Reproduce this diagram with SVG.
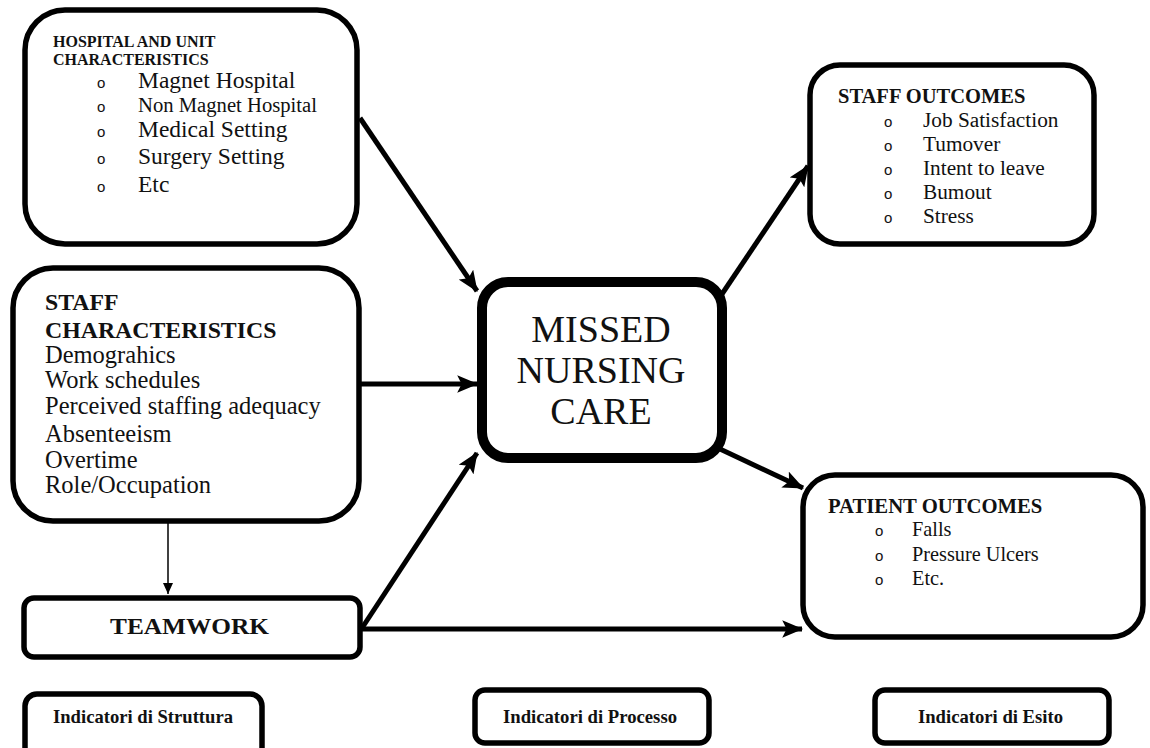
<svg xmlns="http://www.w3.org/2000/svg" width="1150" height="748" viewBox="0 0 1150 748">
<defs>
<marker id="ah" markerUnits="userSpaceOnUse" markerWidth="22" markerHeight="18" refX="18" refY="8" orient="auto" viewBox="0 0 20 16">
<path d="M0,0 L19,8 L0,16 L4,8 Z" fill="#000"/>
</marker>
<marker id="ahs" markerUnits="userSpaceOnUse" markerWidth="12" markerHeight="12" refX="11" refY="5" orient="auto" viewBox="0 0 12 10">
<path d="M0,0 L11,5 L0,10 Z" fill="#000"/>
</marker>
<style>
.box{fill:#fff;stroke:#000;stroke-width:5.5}
.t{font-family:"Liberation Serif","Times New Roman",serif;fill:#111}
.b{font-weight:bold}
.bul{font-family:"Liberation Sans",Arial,sans-serif;font-size:15px;fill:#111}
.c{stroke:#000;stroke-width:5;fill:none;marker-end:url(#ah)}
</style>
</defs>
<rect width="1150" height="748" fill="#fff"/>

<g id="connectors">
<line class="c" x1="360" y1="118" x2="477" y2="291"/>
<line class="c" x1="360" y1="384" x2="477" y2="384"/>
<line class="c" x1="362" y1="628" x2="477" y2="453"/>
<line class="c" x1="720" y1="297" x2="808" y2="166"/>
<line class="c" x1="720" y1="449" x2="803" y2="488"/>
<line class="c" x1="362" y1="629" x2="802" y2="629"/>
<line x1="168" y1="523" x2="168" y2="594" stroke="#000" stroke-width="1.5" marker-end="url(#ahs)"/>
</g>

<g id="hospital">
<rect class="box" x="25" y="10" width="332" height="234" rx="40"/>
<text class="t b" font-size="16" x="53" y="47">HOSPITAL AND UNIT</text>
<text class="t b" font-size="16" x="53" y="65">CHARACTERISTICS</text>
<text class="bul" x="97" y="88">o</text>
<text class="t" font-size="23.5" x="138" y="88">Magnet Hospital</text>
<text class="bul" x="97" y="112">o</text>
<text class="t" font-size="20.5" x="138" y="112" textLength="179" lengthAdjust="spacingAndGlyphs">Non Magnet Hospital</text>
<text class="bul" x="97" y="137">o</text>
<text class="t" font-size="23.5" x="138" y="137">Medical Setting</text>
<text class="bul" x="97" y="164">o</text>
<text class="t" font-size="23.5" x="138" y="164">Surgery Setting</text>
<text class="bul" x="97" y="192">o</text>
<text class="t" font-size="23.5" x="138" y="192">Etc</text>
</g>

<g id="staff-characteristics">
<rect class="box" x="13" y="268" width="346" height="253" rx="40"/>
<text class="t b" font-size="23.8" x="45" y="310">STAFF</text>
<text class="t b" font-size="23.8" x="45" y="338">CHARACTERISTICS</text>
<text class="t" font-size="24.5" x="45" y="363">Demograhics</text>
<text class="t" font-size="24.5" x="45" y="388">Work schedules</text>
<text class="t" font-size="24.5" x="45" y="414">Perceived staffing adequacy</text>
<text class="t" font-size="24.5" x="45" y="442">Absenteeism</text>
<text class="t" font-size="24.5" x="45" y="468">Overtime</text>
<text class="t" font-size="24.5" x="45" y="493">Role/Occupation</text>
</g>

<g id="teamwork">
<rect class="box" x="24" y="598" width="336" height="59" rx="10"/>
<text class="t b" font-size="24" x="110" y="634" textLength="159" lengthAdjust="spacingAndGlyphs">TEAMWORK</text>
</g>

<g id="missed-nursing-care">
<rect x="482" y="282" width="240" height="176" rx="26" fill="#fff" stroke="#000" stroke-width="10"/>
<text class="t" font-size="38" x="601" y="342" text-anchor="middle">MISSED</text>
<text class="t" font-size="38" x="601" y="383" text-anchor="middle">NURSING</text>
<text class="t" font-size="38" x="601" y="424" text-anchor="middle">CARE</text>
</g>

<g id="staff-outcomes">
<rect class="box" x="810" y="65" width="284" height="179" rx="30"/>
<text class="t b" font-size="20.5" x="838" y="103">STAFF OUTCOMES</text>
<text class="bul" x="884" y="127">o</text>
<text class="t" font-size="21.3" x="923" y="127">Job Satisfaction</text>
<text class="bul" x="884" y="151">o</text>
<text class="t" font-size="21.3" x="923" y="151">Tumover</text>
<text class="bul" x="884" y="175">o</text>
<text class="t" font-size="21.3" x="923" y="175">Intent to leave</text>
<text class="bul" x="884" y="199">o</text>
<text class="t" font-size="21.3" x="923" y="199">Bumout</text>
<text class="bul" x="884" y="223">o</text>
<text class="t" font-size="21.3" x="923" y="223">Stress</text>
</g>

<g id="patient-outcomes">
<rect class="box" x="803" y="475" width="340" height="162" rx="32"/>
<text class="t b" font-size="20.7" x="828" y="513">PATIENT OUTCOMES</text>
<text class="bul" x="875" y="536">o</text>
<text class="t" font-size="20.3" x="912" y="536">Falls</text>
<text class="bul" x="875" y="561">o</text>
<text class="t" font-size="20.3" x="912" y="561">Pressure Ulcers</text>
<text class="bul" x="875" y="585">o</text>
<text class="t" font-size="20.3" x="912" y="585">Etc.</text>
</g>

<g id="indicatori-struttura">
<rect class="box" x="25" y="694" width="237" height="70" rx="12"/>
<text class="t b" font-size="19" x="53" y="723" textLength="180" lengthAdjust="spacingAndGlyphs">Indicatori di Struttura</text>
</g>

<g id="indicatori-processo">
<rect class="box" x="475" y="690" width="234" height="53" rx="10"/>
<text class="t b" font-size="19" x="503" y="723" textLength="174" lengthAdjust="spacingAndGlyphs">Indicatori di Processo</text>
</g>

<g id="indicatori-esito">
<rect class="box" x="875" y="690" width="234" height="53" rx="10"/>
<text class="t b" font-size="19" x="918" y="723" textLength="145" lengthAdjust="spacingAndGlyphs">Indicatori di Esito</text>
</g>
</svg>
